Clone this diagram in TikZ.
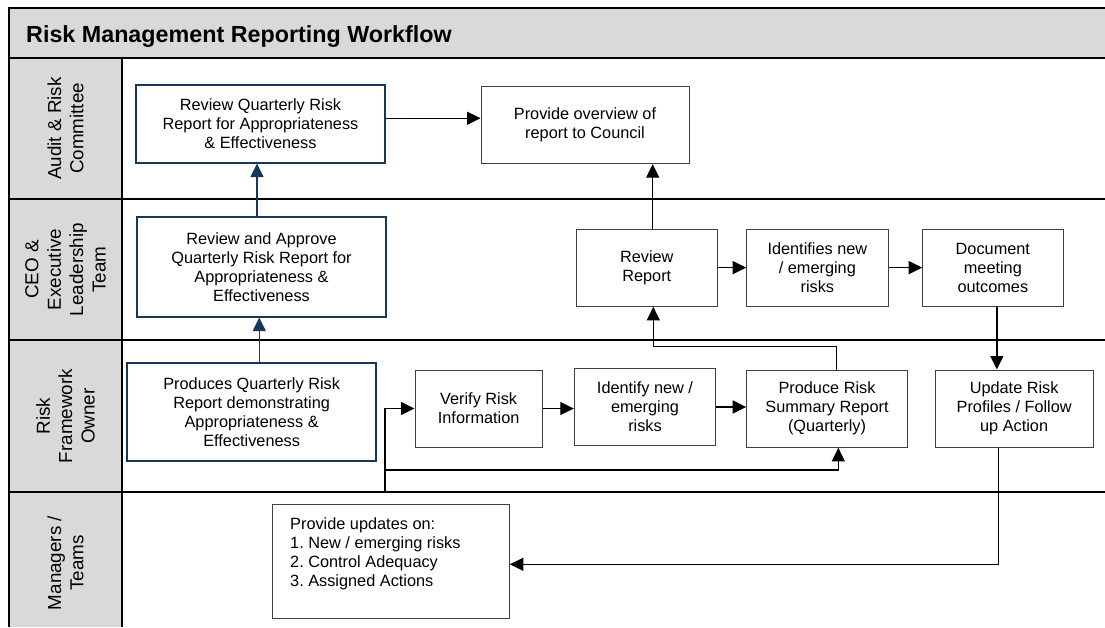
\documentclass[tikz,border=0pt]{standalone}
\usepackage{fontspec}
\setmainfont{Liberation Sans}
\usetikzlibrary{arrows.meta}
\definecolor{navy}{RGB}{23,55,94}
\definecolor{lanegray}{RGB}{217,217,217}
\definecolor{boxline}{RGB}{64,64,64}
\newcommand{\boxfont}{\fontsize{16.3}{19}\selectfont}
\newcommand{\lanefont}{\fontsize{18.8}{22.4}\selectfont}
\frenchspacing
\begin{document}
\begin{tikzpicture}[x=1pt,y=-1pt,
    stepbox/.style={draw=boxline,line width=1pt,fill=white,align=center,inner sep=0pt,font=\boxfont},
    navybox/.style={stepbox,draw=navy,line width=1.8pt},
    lanelabel/.style={rotate=90,align=center,font=\lanefont},
    flow/.style={line width=1.3pt,-{Triangle[length=13.5pt,width=13pt]}},
    navyflow/.style={flow,draw=navy,fill=navy}]
  \useasboundingbox (0,0) rectangle (1105,627);
  \fill[lanegray] (9,7.5) rectangle (1105,57.5);
  \fill[lanegray] (9,57.5) rectangle (122,627);
  \draw[line width=2pt] (1105,7.5) -- (9,7.5) -- (9,627);
  \foreach \y in {57.5,199,340,492}
    \draw[line width=2pt] (9,\y) -- (1105,\y);
  \draw[line width=2pt] (122,57.5) -- (122,627);
  \node[anchor=base west,font=\fontsize{23.3}{28}\selectfont\bfseries] (title) at (22.7,42)
    {Risk Management Reporting Workflow};
  \node[lanelabel] (laneaudit) at (65.5,128.5) {Audit \& Risk\\Committee};
  \node[lanelabel] (laneceo) at (65.5,269.5) {CEO \&\\Executive\\Leadership\\Team};
  \node[lanelabel] (lanerisk) at (65.5,416) {Risk\\Framework\\Owner};
  \node[lanelabel] (lanemgr) at (65.5,563) {Managers /\\Teams};
  \node[navybox,minimum width=249pt,minimum height=78pt] (arcreview) at (260.5,123.7)
    {Review Quarterly Risk\\Report for Appropriateness\\\& Effectiveness};
  \node[stepbox,minimum width=208pt,minimum height=77.7pt] (council) at (585,124.85)
    {Provide overview of\\report to Council};
  \node[navybox,minimum width=249pt,minimum height=100pt] (ceoapprove) at (261.5,266.7)
    {Review and Approve\\Quarterly Risk Report for\\Appropriateness \&\\Effectiveness};
  \node[stepbox,minimum width=141pt,minimum height=77.3pt] (revreport) at (646.8,267.65)
    {Review\\Report};
  \node[stepbox,minimum width=141.3pt,minimum height=77.3pt] (ceoidentify) at (817.35,267.65)
    {Identifies new\\/ emerging\\risks};
  \node[stepbox,minimum width=140.3pt,minimum height=77.3pt] (docmeeting) at (992.85,267.65)
    {Document\\meeting\\outcomes};
  \node[navybox,minimum width=248.7pt,minimum height=97.4pt] (produces) at (251.65,412)
    {Produces Quarterly Risk\\Report demonstrating\\Appropriateness \&\\Effectiveness};
  \node[stepbox,minimum width=127.3pt,minimum height=77pt] (verify) at (478.65,408.5)
    {Verify Risk\\Information};
  \node[stepbox,minimum width=141.4pt,minimum height=77.4pt] (identify) at (645,407)
    {Identify new /\\emerging\\risks};
  \node[stepbox,minimum width=160.6pt,minimum height=77.3pt] (summary) at (827,408.65)
    {Produce Risk\\Summary Report\\(Quarterly)};
  \node[stepbox,minimum width=157.7pt,minimum height=77pt] (update) at (1014.15,408.5)
    {Update Risk\\Profiles / Follow\\up Action};
  \node[stepbox,minimum width=237.3pt,minimum height=114.4pt] (updates) at (390.65,561.5) {};
  \node[anchor=north west,align=left,inner sep=0pt,font=\boxfont] (updatestext) at (290,517.2)
    {Provide updates on:\\1. New / emerging risks\\2. Control Adequacy\\3. Assigned Actions};
  \coordinate (startpt) at (385,492);
  \coordinate (splitpt) at (385,470);
  \draw[flow] ([yshift=5.5pt]arcreview.east) -- ([yshift=5.5pt]arcreview.east -| council.west);
  \draw[navyflow] ([xshift=-4.5pt]ceoapprove.north) -- ([xshift=-4.5pt]ceoapprove.north |- arcreview.south);
  \draw[navyflow] ([xshift=7.6pt]produces.north) -- ([xshift=7.6pt]produces.north |- ceoapprove.south);
  \draw[flow] ([xshift=5.9pt]revreport.north) -- ([xshift=5.9pt]revreport.north |- council.south);
  \draw[flow] (revreport.east) -- (ceoidentify.west);
  \draw[flow] (ceoidentify.east) -- (docmeeting.west);
  \draw[flow] ([xshift=4pt]docmeeting.south) -- ([xshift=4pt]docmeeting.south |- update.north);
  \draw[flow] (verify.east) -- (verify.east -| identify.west);
  \draw[flow] (identify.east) -- (identify.east -| summary.west);
  \draw[flow] (startpt) |- (verify.west);
  \draw[flow] (splitpt) -| ([xshift=11.3pt]summary.south);
  \draw[flow] ([xshift=9.7pt]summary.north) -- ++(0,-23.3) -| ([xshift=6.5pt]revreport.south);
  \draw[flow] ([xshift=-16pt]update.south) |- ([yshift=-2.8pt]updates.east);
\end{tikzpicture}
\end{document}
